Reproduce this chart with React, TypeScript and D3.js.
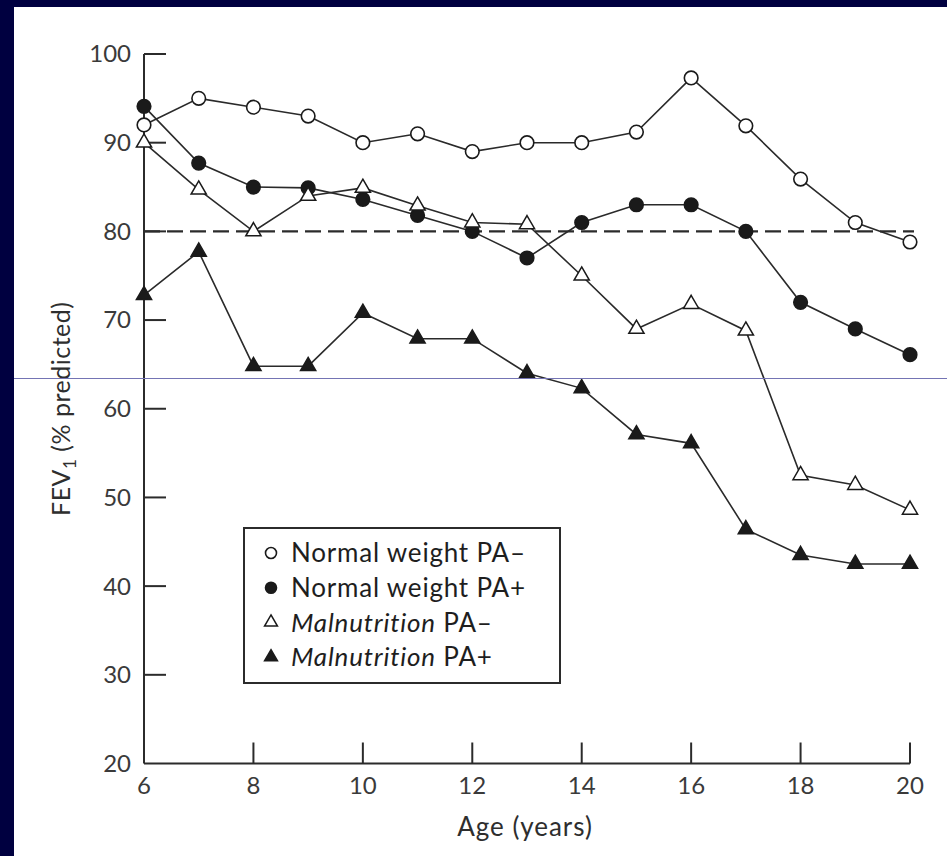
import React from 'react';
import * as d3 from 'd3';

const ages = [6, 7, 8, 9, 10, 11, 12, 13, 14, 15, 16, 17, 18, 19, 20];
const normalPAminus = [92, 95, 94, 93, 90, 91, 89, 90, 90, 91.2, 97.3, 91.9, 85.9, 81, 78.8];
const normalPAplus = [94.1, 87.7, 85, 84.9, 83.6, 81.8, 80, 77, 81, 83, 83, 80, 72, 69, 66.1];
const malnutPAminus = [90, 84.7, 80, 84, 84.9, 82.9, 81, 80.8, 75, 69, 71.8, 68.8, 52.5, 51.4, 48.6];
const malnutPAplus = [72.8, 77.7, 64.8, 64.8, 70.8, 67.9, 67.9, 64, 62.3, 57.1, 56.1, 46.4, 43.5, 42.5, 42.5];
const xTicks = [6, 8, 10, 12, 14, 16, 18, 20];
const yTicks = [20, 30, 40, 50, 60, 70, 80, 90, 100];
const legendLabels = [
  { it: '', post: 'Normal weight PA\u2013' },
  { it: '', post: 'Normal weight PA+' },
  { it: 'Malnutrition', post: ' PA\u2013' },
  { it: 'Malnutrition', post: ' PA+' },
];

const W = 947;
const H = 856;
const ink = '#2b2b2b';
const font = 'Lato, "DejaVu Sans", sans-serif';

const x = d3.scaleLinear().domain([6, 20]).range([144, 910]);
const y = d3.scaleLinear().domain([20, 100]).range([763.5, 54]);

const series = [
  { values: normalPAminus, shape: 'circle', filled: false },
  { values: normalPAplus, shape: 'circle', filled: true },
  { values: malnutPAminus, shape: 'triangle', filled: false },
  { values: malnutPAplus, shape: 'triangle', filled: true },
];

const tri = d3.symbol().type(d3.symbolTriangle).size(100)();
const triSmall = d3.symbol().type(d3.symbolTriangle).size(72)();

const Marker = ({ shape, filled, cx, cy, small }: any) => {
  const fill = filled ? '#1a1a1a' : '#fff';
  if (shape === 'circle') {
    return <circle cx={cx} cy={cy} r={small ? 5.5 : 6.8} fill={fill} stroke="#1a1a1a" strokeWidth={1.6} />;
  }
  return (
    <path d={small ? triSmall : tri} transform={`translate(${cx},${cy})`} fill={fill} stroke="#1a1a1a" strokeWidth={1.5} />
  );
};

export default function App() {
  const line = d3.line<number>().x((_, i) => x(ages[i])).y((d) => y(d));

  return (
    <svg width={W} height={H} style={{ position: 'absolute', left: 0, top: 0 }} fontFamily={font}>
      <rect x={0} y={0} width={W} height={H} fill="#000040" />
      <rect x={14} y={7} width={W - 14} height={H - 7} fill="#fff" />

      {/* axes */}
      <line x1={x(6)} x2={x(6)} y1={y(100)} y2={y(20)} stroke={ink} strokeWidth={2} />
      <line x1={x(6)} x2={x(20)} y1={y(20)} y2={y(20)} stroke={ink} strokeWidth={2} />
      {yTicks.map((t) => (
        <g key={'y' + t}>
          {t > 20 && <line x1={x(6)} x2={x(6) + 22} y1={y(t)} y2={y(t)} stroke={ink} strokeWidth={2} />}
          <text x={131} y={y(t)} dy="0.35em" textAnchor="end" fontSize={24} fill="#3a3a3a">{t}</text>
        </g>
      ))}
      {xTicks.map((t) => (
        <g key={'x' + t}>
          {t > 6 && <line x1={x(t)} x2={x(t)} y1={y(20)} y2={y(20) - 21} stroke={ink} strokeWidth={2} />}
          <text x={x(t)} y={794} textAnchor="middle" fontSize={24} fill="#3a3a3a">{t}</text>
        </g>
      ))}
      <text x={525} y={836} textAnchor="middle" fontSize={26} letterSpacing={1} fill="#2e2e2e">Age (years)</text>
      <text transform={`translate(70,${(y(20) + y(100)) / 2}) rotate(-90)`} textAnchor="middle" fontSize={25} letterSpacing={0.5} fill="#2e2e2e">
        FEV<tspan fontSize={17} dy={6}>1</tspan><tspan dy={-6}> (% predicted)</tspan>
      </text>

      {/* reference line at 80% */}
      <line x1={x(6)} x2={x(20) + 4} y1={y(80)} y2={y(80)} stroke={ink} strokeWidth={2.2} strokeDasharray="16 7" />

      {/* series */}
      {series.map((s, k) => (
        <path key={'l' + k} d={line(s.values) || ''} fill="none" stroke="#2a2a2a" strokeWidth={1.6} />
      ))}
      {series.map((s, k) =>
        s.values.map((v, i) => (
          <Marker key={k + '-' + i} shape={s.shape} filled={s.filled} cx={x(ages[i])} cy={y(v)} />
        ))
      )}

      {/* legend */}
      <rect x={244} y={528} width={316} height={155} fill="#fff" stroke={ink} strokeWidth={2} />
      {legendLabels.map((l, i) => (
        <g key={'lg' + i}>
          <Marker shape={series[i].shape} filled={series[i].filled} cx={271} cy={553 + i * 34.7} small />
          <text x={291} y={553 + i * 34.7} dy="0.36em" fontSize={26} letterSpacing={0.8} fill="#1e1e1e">
            {l.it && <tspan fontStyle="italic">{l.it}</tspan>}
            <tspan>{l.post}</tspan>
          </text>
        </g>
      ))}

      {/* thin stray horizontal rule seen in the source image */}
      <line x1={14} x2={W} y1={378.5} y2={378.5} stroke="#7474b4" strokeWidth={1} />
    </svg>
  );
}
